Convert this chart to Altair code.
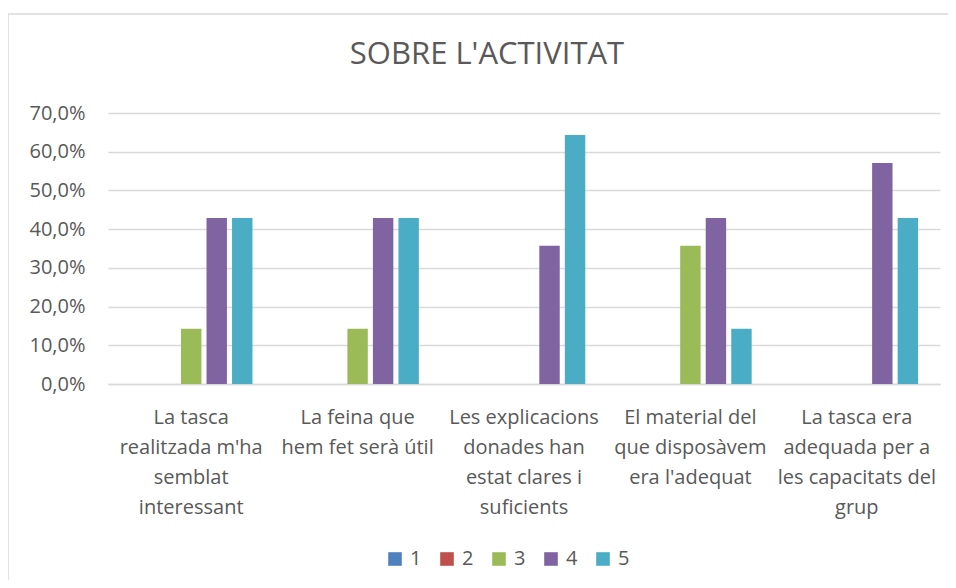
import altair as alt
import pandas as pd

categories = [
    "La tasca|realitzada m'ha|semblat|interessant",
    "La feina que|hem fet serà útil",
    "Les explicacions|donades han|estat clares i|suficients",
    "El material del|que disposàvem|era l'adequat",
    "La tasca era|adequada per a|les capacitats del|grup",
]
series = ["1", "2", "3", "4", "5"]
values_1 = [0.0, 0.0, 0.0, 0.0, 0.0]
values_2 = [0.0, 0.0, 0.0, 0.0, 0.0]
values_3 = [0.143, 0.143, 0.0, 0.357, 0.0]
values_4 = [0.429, 0.429, 0.357, 0.429, 0.571]
values_5 = [0.429, 0.429, 0.643, 0.143, 0.429]
colors = ["#4F81BD", "#C0504D", "#9BBB59", "#8064A2", "#4BACC6"]
y_ticks = [0.0, 0.1, 0.2, 0.3, 0.4, 0.5, 0.6, 0.7]
title_text = "SOBRE L'ACTIVITAT"

all_values = [values_1, values_2, values_3, values_4, values_5]
rows = []
for s, vals in zip(series, all_values):
    for c, v in zip(categories, vals):
        rows.append({"category": c, "series": s, "value": v})
df = pd.DataFrame(rows)

TEXT = "#595959"
GRID = "#D9D9D9"
FONT = "Open Sans"

bars = alt.Chart(df).mark_bar().encode(
    x=alt.X(
        "category:N",
        sort=categories,
        title=None,
        scale=alt.Scale(paddingInner=0.233, paddingOuter=0.1165),
        axis=alt.Axis(
            labelAngle=0,
            labelExpr="split(datum.value, '|')",
            labelFontSize=20,
            labelLineHeight=30,
            labelBaseline="top",
            labelPadding=23,
            labelColor=TEXT,
            labelFont=FONT,
            ticks=False,
            tickSize=0,
            domainColor=GRID,
            domainWidth=1.5,
            grid=False,
            labelLimit=300,
        ),
    ),
    xOffset=alt.XOffset(
        "series:N",
        sort=series,
        scale=alt.Scale(paddingInner=0.2, paddingOuter=0.1),
    ),
    y=alt.Y(
        "value:Q",
        title=None,
        scale=alt.Scale(domain=[0, 0.7], nice=False),
        axis=alt.Axis(
            values=y_ticks,
            labelExpr="replace(format(datum.value, '.1%'), '.', ',')",
            labelFontSize=20,
            labelColor=TEXT,
            labelFont=FONT,
            labelPadding=23,
            ticks=False,
            tickSize=0,
            domain=False,
            gridColor=GRID,
            gridWidth=1.5,
        ),
    ),
    color=alt.Color(
        "series:N",
        sort=series,
        scale=alt.Scale(domain=series, range=colors),
        legend=alt.Legend(
            title=None,
            orient="none",
            direction="horizontal",
            legendX=277,
            legendY=436,
            symbolType="square",
            symbolSize=185,
            symbolStrokeWidth=0,
            labelFontSize=20,
            labelColor=TEXT,
            labelFont=FONT,
            labelOffset=5,
            columnPadding=15,
            padding=0,
        ),
    ),
)

frame_df = pd.DataFrame({"k": [0]})
border_top = alt.Chart(frame_df).mark_rule(stroke=GRID, strokeWidth=1.5).encode(
    x=alt.value(-100),
    x2=alt.value(900),
    y=alt.value(-99),
)
border_left = alt.Chart(frame_df).mark_rule(stroke=GRID, strokeWidth=1.5).encode(
    x=alt.value(-100),
    y=alt.value(-99),
    y2=alt.value(600),
)

chart = alt.layer(border_top, border_left, bars).properties(
    width=832,
    height=271,
    view=alt.ViewBackground(strokeWidth=0, strokeOpacity=0),
    autosize=alt.AutoSizeParams(type="none"),
    padding={"left": 100, "top": 105, "right": 8, "bottom": 196},
    title=alt.TitleParams(
        title_text,
        font=FONT,
        fontSize=31,
        fontWeight="normal",
        color=TEXT,
        anchor="middle",
        frame="group",
        baseline="bottom",
        dx=-37,
        offset=-89,
    ),
).configure_view(
    strokeWidth=0, strokeOpacity=0
).configure(font=FONT, background="white")

chart.save("out.html", embed_options={"renderer": "svg", "actions": False})
